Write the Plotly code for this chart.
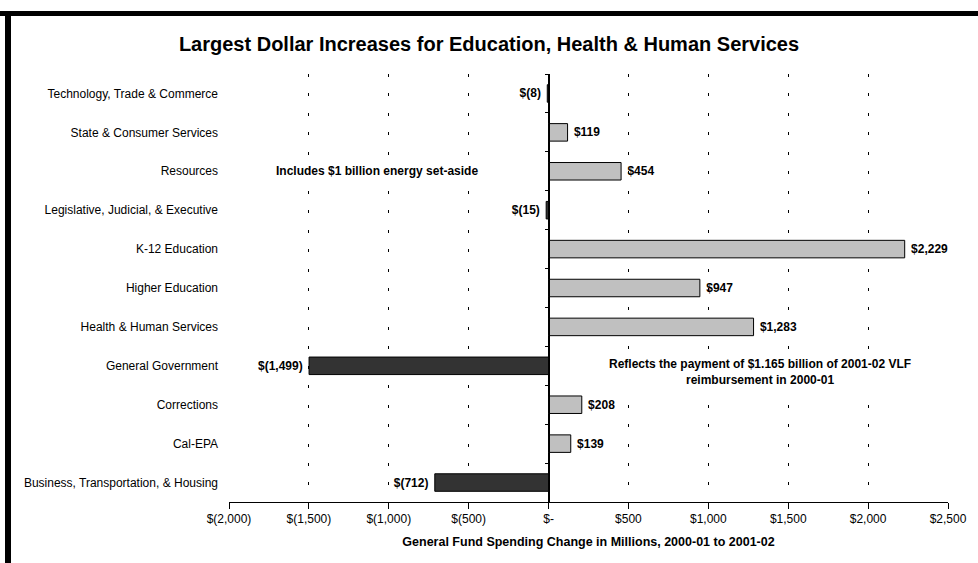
import plotly.graph_objects as go

categories = [
    "Business, Transportation, & Housing",
    "Cal-EPA",
    "Corrections",
    "General Government",
    "Health & Human Services",
    "Higher Education",
    "K-12 Education",
    "Legislative, Judicial, & Executive",
    "Resources",
    "State & Consumer Services",
    "Technology, Trade & Commerce",
]
values = [-712, 139, 208, -1499, 1283, 947, 2229, -15, 454, 119, -8]
tick_vals = [-2000, -1500, -1000, -500, 0, 500, 1000, 1500, 2000, 2500]
tick_text = ["$(2,000)", "$(1,500)", "$(1,000)", "$(500)", "$-", "$500", "$1,000", "$1,500", "$2,000", "$2,500"]


def fmt(v):
    return f"$({abs(v):,})\u00a0" if v < 0 else f"\u00a0${v:,}"


labels = [fmt(v) for v in values]
colors = ["#333333" if v < 0 else "#C0C0C0" for v in values]

FONT = "Liberation Sans, Arial, sans-serif"

fig = go.Figure()
fig.add_trace(go.Bar(
    y=categories, x=values, orientation="h",
    marker=dict(color=colors, line=dict(color="black", width=1)),
    width=0.45,
    text=labels, textposition="outside", cliponaxis=False,
    textfont=dict(family=FONT, size=12, color="black", weight="bold"),
    hoverinfo="skip",
))

n = len(categories)
boundaries = [i - 0.5 for i in range(n + 1)]
xmin, xmax = -2000, 2500
zero_pos = (0 - xmin) / (xmax - xmin)

L, R, T, B = 229, 30, 74, 61
W, H = 978, 563
plot_h = H - T - B
period = plot_h / (2 * n)

fig.update_layout(
    width=W, height=H,
    margin=dict(l=L, r=R, t=T, b=B),
    paper_bgcolor="white", plot_bgcolor="white",
    showlegend=False,
    font=dict(family=FONT, size=12, color="black"),
    title=dict(
        text="<b>Largest Dollar Increases for Education, Health & Human Services</b>",
        x=0.5, xref="container", xanchor="center",
        y=1 - 44 / H, yref="container", yanchor="middle",
        font=dict(family=FONT, size=20, color="black"),
    ),
    xaxis=dict(
        range=[xmin, xmax], tickvals=tick_vals, ticktext=tick_text,
        showline=True, linecolor="black", linewidth=1,
        ticks="outside", ticklen=6, tickcolor="black",
        showgrid=True, gridcolor="black", gridwidth=1,
        griddash=f"3px,{period - 3:.2f}px",
        zeroline=True, zerolinecolor="black", zerolinewidth=1,
        tickfont=dict(family=FONT, size=12, color="black"),
        title=dict(text="<b>General Fund Spending Change in Millions, 2000-01 to 2001-02</b>",
                   font=dict(family=FONT, size=12.5, color="black"), standoff=11),
        fixedrange=True,
    ),
    yaxis=dict(
        type="category", categoryorder="array", categoryarray=categories,
        range=[-0.5, n - 0.5],
        showline=False, showgrid=False, zeroline=False,
        ticks="", ticklabelstandoff=10,
        tickfont=dict(family=FONT, size=12, color="black"),
        fixedrange=True,
    ),
    yaxis2=dict(
        overlaying="y", anchor="free", position=zero_pos, side="left",
        range=[-0.5, n - 0.5], tickvals=boundaries, showticklabels=False,
        ticks="outside", ticklen=4, tickcolor="black",
        showline=True, linecolor="black", linewidth=1,
        showgrid=False, zeroline=False, fixedrange=True,
    ),
)

fig.add_trace(go.Scatter(x=[None], y=[None], yaxis="y2", hoverinfo="skip", showlegend=False))

fig.add_annotation(
    text="<b>Includes $1 billion energy set-aside</b>",
    x=-1075, y=8, xref="x", yref="y", showarrow=False,
    font=dict(family=FONT, size=12, color="black"), bgcolor="white",
)
fig.add_annotation(
    text="<b>Reflects the payment of $1.165 billion of 2001-02 VLF<br>reimbursement in 2000-01</b>",
    x=1325, y=2.85, xref="x", yref="y", showarrow=False,
    font=dict(family=FONT, size=12, color="black"), bgcolor="white",
)

# black frame on top and left edges of the picture
plot_w = W - L - R
def px_x(p):
    return (p - L) / plot_w
def px_y(p):
    return (H - B - p) / plot_h

fig.add_shape(type="rect", xref="paper", yref="paper",
              x0=px_x(0), x1=px_x(W), y0=px_y(16), y1=px_y(11),
              fillcolor="black", line=dict(width=0), layer="above")
fig.add_shape(type="rect", xref="paper", yref="paper",
              x0=px_x(5), x1=px_x(11), y0=px_y(H), y1=px_y(11),
              fillcolor="black", line=dict(width=0), layer="above")

fig.write_html("out.html")
